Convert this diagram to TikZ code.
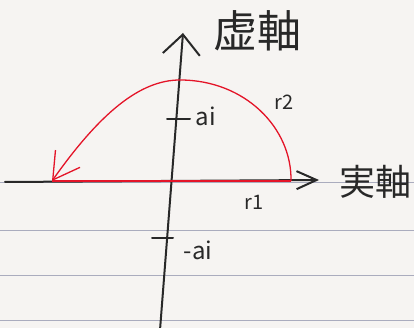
\documentclass[tikz,border=0pt]{standalone}
\usepackage{fontspec}
\newfontfamily\jpfont{Noto Sans CJK JP}
\usetikzlibrary{arrows.meta}
\definecolor{paper}{RGB}{246,244,242}
\definecolor{ruled}{RGB}{170,172,190}
\definecolor{redpen}{RGB}{228,20,40}
\definecolor{ink}{RGB}{40,40,40}
\begin{document}
\begin{tikzpicture}[x=1pt,y=1pt,
    axis/.style={ink, line width=2pt, line cap=round},
    label/.style={ink, font=\jpfont\fontsize{24}{24}\selectfont, inner sep=0pt}]

    \fill[paper] (0,0) rectangle (414,328);
    \useasboundingbox (0,0) rectangle (414,328);

    \foreach \y in {8,53,98,146}{
        \draw[ruled, line width=0.6pt] (0,\y) -- (414,\y);
    }

    \coordinate (reL) at (5,146);
    \coordinate (reR) at (319,148);
    \coordinate (imB) at (160,-2);
    \coordinate (imT) at (183,295);

    \draw[axis, -{Straight Barb[length=20pt,width=18pt,line width=2pt]}]
        (reL) -- (reR);
    \draw[axis, -{Straight Barb[length=20pt,width=37pt,line width=2pt]}]
        (imB) -- (imT);

    \coordinate (aiL) at (167,209);
    \coordinate (aiR) at (190,209);
    \coordinate (maiL) at (152,90);
    \coordinate (maiR) at (173,90);
    \draw[axis] (aiL) -- (aiR);
    \draw[axis] (maiL) -- (maiR);

    \coordinate (start) at (291,147);
    \coordinate (top) at (180,248);
    \coordinate (end) at (52,147);
    \draw[redpen, line width=1.3pt, -{Straight Barb[length=26pt,width=30pt,line width=1.3pt]}]
        (start) .. controls (292,200) and (245,248) .. (top)
        .. controls (140,248) and (100,215) .. (end);
    \draw[redpen, line width=1.6pt] (start) -- (end);

    \node[label, font=\jpfont\fontsize{44}{44}\selectfont] (imlabel)
        at (257,297) {虚軸};
    \node[label, font=\jpfont\fontsize{36}{36}\selectfont] (relabel)
        at (375,146) {実軸};

    \node[label] (ai) at (206,212) {ai};
    \node[label] (mai) at (198,78) {-ai};
    \node[label, font=\jpfont\fontsize{20}{20}\selectfont] (rtwo)
        at (284,226) {r2};
    \node[label, font=\jpfont\fontsize{20}{20}\selectfont] (rone)
        at (254,126) {r1};

\end{tikzpicture}
\end{document}
